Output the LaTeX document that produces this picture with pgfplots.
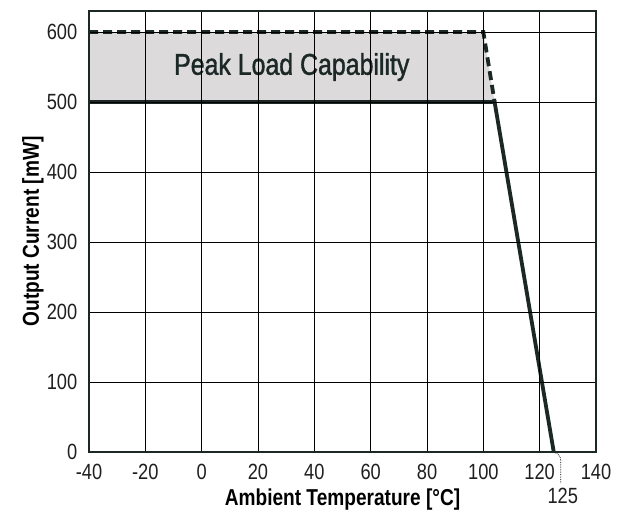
\documentclass[border=0pt]{standalone}
\usepackage{pgfplots}
\pgfplotsset{compat=1.18}
\usepackage{fontspec}
\setmainfont{Liberation Sans}[FakeStretch=0.83]
\newfontfamily\peakfont{Liberation Sans}[FakeStretch=0.83, FakeBold=1.3]
\definecolor{ink}{HTML}{1B2826}
\definecolor{peak}{HTML}{DCDADA}
\begin{document}
\begin{tikzpicture}
\useasboundingbox (-89bp,-73bp) rectangle (530bp,452bp);
\begin{axis}[
  at={(0,0)}, anchor=south west,
  scale only axis, width=507bp, height=441bp,
  xmin=-40, xmax=140, ymin=0, ymax=630,
  xtick={-40,-20,...,140}, ytick={0,100,...,600},
  major tick length=0pt,
  grid=major,
  grid style={black, line width=0.8bp},
  axis line style={ink, line width=2.5bp},
  axis on top,
  clip=false,
  /pgf/number format/assume math mode=true,
  tick label style={font=\fontsize{22bp}{25bp}\selectfont, text=black!88, inner sep=1.5bp},
  xticklabel style={yshift=-10bp},
  yticklabel style={xshift=-10bp},
  xlabel={\bfseries Ambient Temperature [°C]},
  ylabel={\bfseries Output Current [mW]},
  label style={font=\fontsize{23bp}{26bp}\selectfont, text=black},
  xlabel style={at={(0.5,0)}, anchor=base, yshift=-53bp},
  ylabel style={at={(0,0.5)}, anchor=base, yshift=50bp},
]
\addplot[draw=none, fill=peak] coordinates {(-40,500) (-40,600) (100,600) (104,500)} -- cycle;
\addplot[ink, line width=3.8bp, dash pattern=on 9bp off 5bp] coordinates {(-40,600) (100,600) (104,500)};
\addplot[ink, line width=3.8bp] coordinates {(-40,500) (104,500) (125,0)};
\node[font=\peakfont\fontsize{30bp}{34bp}\selectfont, text=ink] at (axis cs:32,550) {Peak Load Capability};
\draw[black, line width=0.7bp, densely dotted]
  (axis cs:125,0) .. controls ([xshift=5bp,yshift=-2bp]axis cs:125,0) and ([xshift=7bp,yshift=-4bp]axis cs:125,0) .. ([xshift=7bp,yshift=-9bp]axis cs:125,0)
  -- ([xshift=7bp,yshift=-31bp]axis cs:125,0);
\node[font=\fontsize{22bp}{25bp}\selectfont, text=black!88, inner sep=1.5bp, anchor=north] at ([yshift=-34bp,xshift=9bp]axis cs:125,0) {125};
\end{axis}
\end{tikzpicture}
\end{document}
